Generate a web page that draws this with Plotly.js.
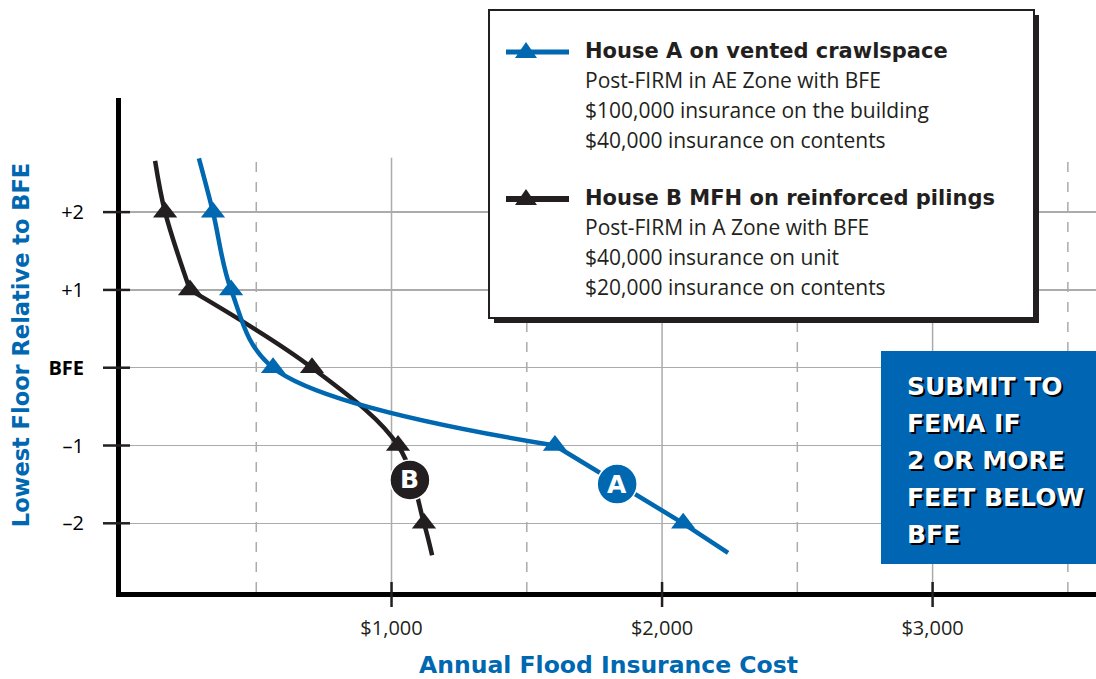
<!DOCTYPE html>
<html>
<head>
<meta charset="utf-8">
<script src="https://cdn.plot.ly/plotly-3.0.1.min.js"></script>
<style>html,body{margin:0;padding:0;background:#fff;}#chart{width:1096px;height:679px;}</style>
</head>
<body>
<div id="chart"></div>
<script>
// ---- Data ----
const floorLevels = [2, 1, 0, -1, -2];
const houseACost = [340, 407, 562, 1604, 2078];
const houseBCost = [163, 255, 706, 1024, 1120];
// curve extents (line continues beyond the marked points)
const houseALineCost = [288, 340, 407, 562, 1604, 2078, 2244];
const houseALineFloor = [2.69, 2, 1, 0, -1, -2, -2.38];
const houseBLineCost = [126, 163, 255, 706, 1024, 1120, 1150];
const houseBLineFloor = [2.66, 2, 1, 0, -1, -2, -2.41];

const xTickVals = [1000, 2000, 3000];
const xTickText = ['$1,000', '$2,000', '$3,000'];
const xDashedVals = [500, 1500, 2500, 3500];
const yTickVals = [2, 1, 0, -1, -2];
const yTickText = ['+2', '+1', '<b>BFE</b>', '\u20131', '\u20132'];

const legendA = ['House A on vented crawlspace', 'Post-FIRM in AE Zone with BFE', '$100,000 insurance on the building', '$40,000 insurance on contents'];
const legendB = ['House B MFH on reinforced pilings', 'Post-FIRM in A Zone with BFE', '$40,000 insurance on unit', '$20,000 insurance on contents'];
const noteLines = ['SUBMIT TO', 'FEMA IF', '2 OR MORE', 'FEET BELOW', 'BFE'];

// ---- Styling ----
const BLUE = '#0067b1';
const DARK = '#231f20';
const GRID = '#ababab';
const W = 1096, H = 679;
const M = {l: 121, r: 0, t: 98, b: 87};
const PW = W - M.l - M.r, PH = H - M.t - M.b;
const X_MAX = 3604, Y_MIN = -2.883, Y_MAX = 3.467;
const px = x => (x - M.l) / PW;          // pixel -> paper x
const py = y => (H - M.b - y) / PH;      // pixel -> paper y
const xv = v => v / X_MAX;               // x value -> paper x
const yv = v => (v - Y_MIN) / (Y_MAX - Y_MIN); // y value -> paper y

function seg(xs, ys, a, b, color, shape) {
  return {x: xs.slice(a, b + 1), y: ys.slice(a, b + 1), mode: 'lines',
    line: {color: color, width: 4.5, shape: shape, smoothing: 1}, hoverinfo: 'skip', showlegend: false};
}

const traces = [
  // House B: kink at +1
  seg(houseBLineCost, houseBLineFloor, 0, 2, DARK, 'spline'),
  seg(houseBLineCost, houseBLineFloor, 2, 6, DARK, 'spline'),
  {x: houseBCost, y: floorLevels, mode: 'markers', marker: {symbol: 'triangle-up', size: 21, color: DARK}, name: 'House B', showlegend: false},
  // House A: curved to -1, straight below
  seg(houseALineCost, houseALineFloor, 0, 4, BLUE, 'spline'),
  seg(houseALineCost, houseALineFloor, 4, 6, BLUE, 'linear'),
  {x: houseACost, y: floorLevels, mode: 'markers', marker: {symbol: 'triangle-up', size: 21, color: BLUE}, name: 'House A', showlegend: false}
];

const shapes = [];
// vertical grid lines (stop short of the top)
xTickVals.forEach(v => shapes.push({type: 'line', xref: 'x', yref: 'y', x0: v, x1: v, y0: Y_MIN, y1: 2.7, line: {color: GRID, width: 1.5}, layer: 'below'}));
xDashedVals.forEach(v => shapes.push({type: 'line', xref: 'x', yref: 'y', x0: v, x1: v, y0: Y_MIN, y1: 2.7, line: {color: GRID, width: 1.5, dash: '10px,10px'}, layer: 'below'}));
// tick marks crossing the axis lines
xTickVals.forEach(v => shapes.push({type: 'line', xref: 'paper', yref: 'paper', x0: xv(v), x1: xv(v), y0: py(607), y1: py(582), line: {color: DARK, width: 2.5}}));
yTickVals.forEach(v => shapes.push({type: 'line', xref: 'paper', yref: 'paper', y0: yv(v), y1: yv(v), x0: px(103), x1: px(130), line: {color: DARK, width: 2.5}}));

// legend box with drop shadow
shapes.push({type: 'rect', xref: 'paper', yref: 'paper', x0: px(494), x1: px(1039), y0: py(15), y1: py(323), fillcolor: DARK, line: {width: 0}});
shapes.push({type: 'rect', xref: 'paper', yref: 'paper', x0: px(489), x1: px(1034), y0: py(10), y1: py(318), fillcolor: '#fff', line: {color: DARK, width: 2}});
function legendSample(yc, color, w) {
  shapes.push({type: 'line', xref: 'paper', yref: 'paper', x0: px(506), x1: px(569), y0: py(yc), y1: py(yc), line: {color: color, width: w}});
  const p = `M ${px(515)},${py(yc + 6)} L ${px(537)},${py(yc + 6)} L ${px(526)},${py(yc - 10)} Z`;
  shapes.push({type: 'path', xref: 'paper', yref: 'paper', path: p, fillcolor: color, line: {width: 0}});
}
legendSample(52, BLUE, 5);
legendSample(199, DARK, 6);

// blue note box
shapes.push({type: 'rect', xref: 'paper', yref: 'paper', x0: px(881), x1: px(1096), y0: py(351), y1: py(564), fillcolor: '#0066b3', line: {width: 0}});

// circle labels on curves
function labelCircle(x, y, color) {
  shapes.push({type: 'circle', xref: 'x', yref: 'y', xsizemode: 'pixel', ysizemode: 'pixel', xanchor: x, yanchor: y, x0: -20, x1: 20, y0: -20, y1: 20, fillcolor: color, line: {color: '#fff', width: 1.5}, layer: 'above'});
}
labelCircle(1834, -1.495, BLUE);
labelCircle(1068, -1.443, DARK);

const annotations = [];
annotations.push({xref: 'x', yref: 'y', x: 1834, y: -1.495, text: 'A', showarrow: false, font: {family: 'DejaVu Sans', size: 25, color: '#fff', weight: 'bold'}});
annotations.push({xref: 'x', yref: 'y', x: 1068, y: -1.443, text: 'B', showarrow: false, font: {family: 'DejaVu Sans', size: 25, color: '#fff', weight: 'bold'}});

function legendText(lines, y0) {
  lines.forEach((t, i) => {
    const y = i === 0 ? y0 : y0 + 29 + (i - 1) * 30;
    annotations.push({xref: 'paper', yref: 'paper', x: px(583), y: py(y), xanchor: 'left', yanchor: 'middle', text: t, showarrow: false,
      font: i === 0 ? {family: 'DejaVu Sans', size: 21, color: DARK, weight: 'bold'} : {family: 'Open Sans', size: 21, color: DARK}});
  });
}
legendText(legendA, 51);
legendText(legendB, 198);

noteLines.forEach((t, i) => {
  annotations.push({xref: 'paper', yref: 'paper', x: px(905), y: py(386 + i * 37.2), xanchor: 'left', yanchor: 'middle', text: t, showarrow: false,
    font: {family: 'DejaVu Sans', size: 25, color: '#fff', weight: 'bold', shadow: '2px 2px 0px #000'}});
});

const layout = {
  width: W, height: H,
  margin: M,
  paper_bgcolor: '#fff', plot_bgcolor: '#fff',
  showlegend: false,
  xaxis: {
    range: [0, X_MAX], showgrid: false, zeroline: false,
    showline: true, linecolor: '#000', linewidth: 5,
    tickvals: xTickVals, ticktext: xTickText,
    ticks: 'outside', ticklen: 14, tickwidth: 1, tickcolor: 'rgba(0,0,0,0)',
    tickfont: {family: 'Open Sans', size: 20, color: DARK},
    title: {text: 'Annual Flood Insurance Cost', standoff: 19, font: {family: 'DejaVu Sans', size: 23.5, color: BLUE, weight: 'bold'}}
  },
  yaxis: {
    range: [Y_MIN, Y_MAX], zeroline: false,
    showgrid: true, gridcolor: GRID, gridwidth: 1.5,
    showline: true, linecolor: '#000', linewidth: 5,
    tickvals: yTickVals, ticktext: yTickText,
    ticks: 'outside', ticklen: 18, tickwidth: 1, tickcolor: 'rgba(0,0,0,0)',
    ticklabelstandoff: 10,
    tickfont: {family: 'Open Sans', size: 20, color: '#000'},
    title: {text: 'Lowest Floor Relative to BFE', standoff: 14, font: {family: 'DejaVu Sans', size: 22.5, color: BLUE, weight: 'bold'}}
  },
  shapes: shapes,
  annotations: annotations
};

Plotly.newPlot('chart', traces, layout, {staticPlot: true, displayModeBar: false});
</script>
</body>
</html>
